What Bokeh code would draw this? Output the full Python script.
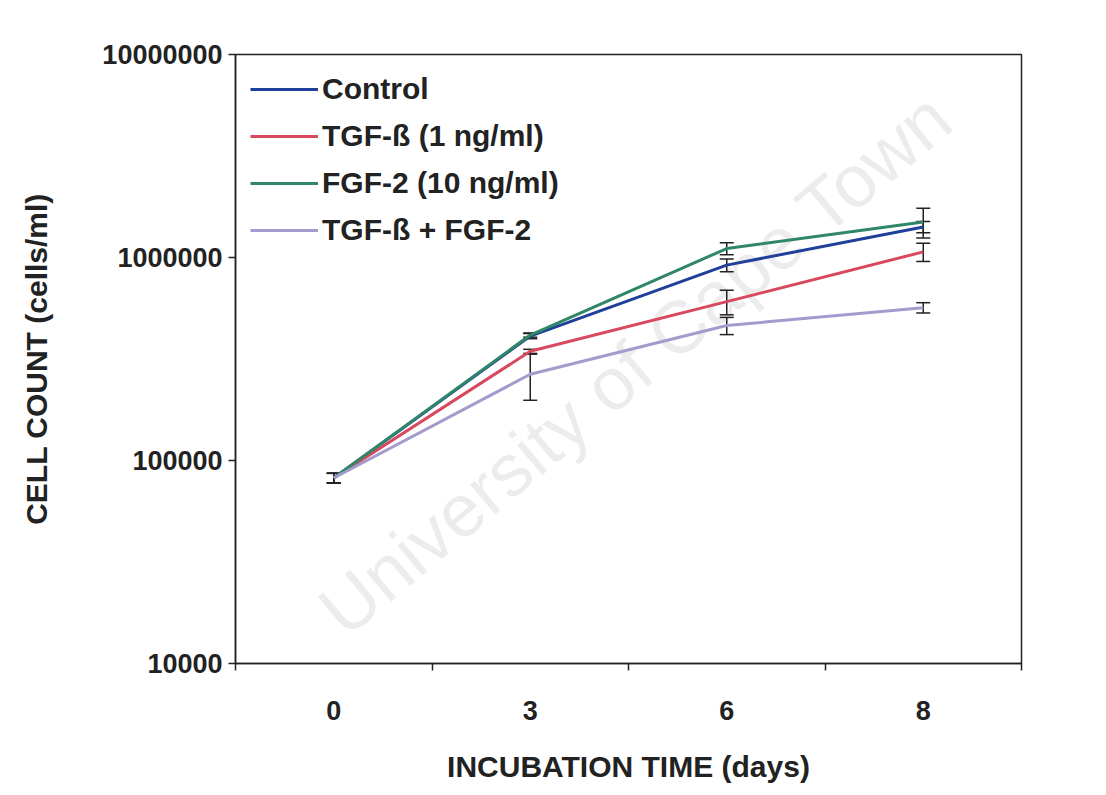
from bokeh.plotting import figure
from bokeh.models import (Range1d, FixedTicker, NumeralTickFormatter, Whisker, TeeHead,
                          ColumnDataSource, Legend, LegendItem, Label)
from bokeh.embed import file_html
from bokeh.resources import INLINE

# ---- data ----
days = ["0", "3", "6", "8"]
control = [82000, 410000, 917000, 1414000]
control_err = [4500, 12000, 66000, 90000]
tgf = [82000, 345000, 606000, 1066000]
tgf_err = [4500, 8000, 84000, 110000]
fgf2 = [82000, 415000, 1107000, 1496000]
fgf2_err = [4500, 10000, 75000, 250000]
combo = [82000, 266000, 462000, 566000]
combo_err = [4500, 68000, 45000, 33000]

series_names = ["Control", "TGF-ß (1 ng/ml)", "FGF-2 (10 ng/ml)", "TGF-ß + FGF-2"]
series_vals = [control, tgf, fgf2, combo]
series_errs = [control_err, tgf_err, fgf2_err, combo_err]
series_colors = ["#203f9a", "#d8485e", "#2f8767", "#a39bcc"]

y_ticks = [10000, 100000, 1000000, 10000000]

FONT = "Liberation Sans"

x_pos = [i + 0.5 for i in range(len(days))]

p = figure(width=1106, height=795, y_axis_type="log",
           x_range=Range1d(0, len(days)), y_range=Range1d(y_ticks[0], y_ticks[-1]),
           output_backend="svg", toolbar_location=None,
           min_border_left=235, min_border_right=85, min_border_top=54, min_border_bottom=132)

p.background_fill_color = "white"
p.border_fill_color = "white"
p.outline_line_color = "#222222"
p.outline_line_width = 1.5
p.xgrid.visible = False
p.ygrid.visible = False

# faint watermark across the plot area
wm = Label(x=400, y=300, x_units="screen", y_units="screen", text="University of Cape Town",
           angle=40, angle_units="deg", text_align="center", text_baseline="middle",
           text_font=FONT, text_font_size="74px", text_color="#000000", text_alpha=0.075,
           level="underlay")
p.add_layout(wm)

items = []
for name, vals, errs, col in zip(series_names, series_vals, series_errs, series_colors):
    src = ColumnDataSource(dict(x=x_pos, y=vals,
                                lo=[v - e for v, e in zip(vals, errs)],
                                hi=[v + e for v, e in zip(vals, errs)]))
    r = p.line("x", "y", source=src, line_color=col, line_width=3)
    items.append(LegendItem(label=name, renderers=[r]))
    w = Whisker(base="x", lower="lo", upper="hi", source=src, line_color="#222222", line_width=1.5,
                upper_head=TeeHead(size=14, line_color="#222222", line_width=1.5),
                lower_head=TeeHead(size=14, line_color="#222222", line_width=1.5))
    p.add_layout(w)

legend = Legend(items=items, location="top_left", margin=15, padding=0, spacing=7,
                glyph_width=68, glyph_height=40, label_standoff=4,
                label_text_font=FONT, label_text_font_style="bold", label_text_font_size="30px",
                label_text_color="#222222", border_line_color=None, background_fill_alpha=0)
p.add_layout(legend)

# x axis
p.xaxis.ticker = FixedTicker(ticks=x_pos, minor_ticks=list(range(len(days) + 1)))
p.xaxis.major_label_overrides = {x: d for x, d in zip(x_pos, days)}
p.xaxis.major_tick_line_color = None
p.xaxis.major_tick_out = 0
p.xaxis.major_tick_in = 0
p.xaxis.minor_tick_out = 7
p.xaxis.minor_tick_in = 0
p.xaxis.minor_tick_line_color = "#222222"
p.xaxis.minor_tick_line_width = 1.5
p.xaxis.major_label_standoff = 30
p.xaxis.axis_label = "INCUBATION TIME (days)"
p.xaxis.axis_label_standoff = 27

# y axis
p.yaxis.ticker = FixedTicker(ticks=y_ticks, minor_ticks=[])
p.yaxis.formatter = NumeralTickFormatter(format="0")
p.yaxis.major_tick_out = 7
p.yaxis.major_tick_in = 0
p.yaxis.major_tick_line_color = "#222222"
p.yaxis.major_tick_line_width = 1.5
p.yaxis.minor_tick_line_color = None
p.yaxis.major_label_standoff = 6
p.yaxis.axis_label = "CELL COUNT (cells/ml)"
p.yaxis.axis_label_standoff = 46

for ax in (p.xaxis, p.yaxis):
    ax.axis_line_color = "#222222"
    ax.axis_line_width = 1.5
    ax.major_label_text_font = FONT
    ax.major_label_text_font_style = "bold"
    ax.major_label_text_font_size = "27px"
    ax.major_label_text_color = "#222222"
    ax.axis_label_text_font = FONT
    ax.axis_label_text_font_style = "bold"
    ax.axis_label_text_font_size = "30px"
    ax.axis_label_text_color = "#222222"

open("out.html", "w").write(file_html(p, INLINE))
